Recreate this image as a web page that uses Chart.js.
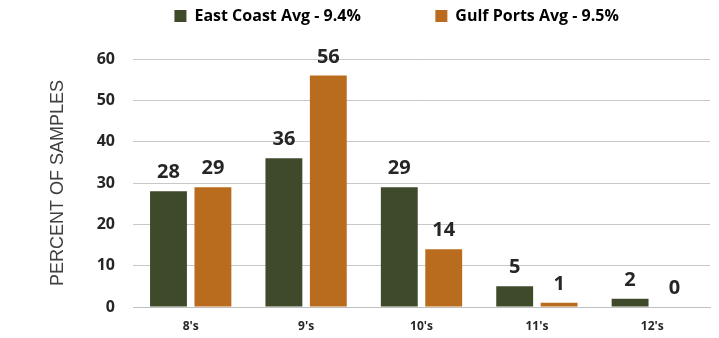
<!DOCTYPE html>
<html>
<head>
<meta charset="utf-8">
<script src="https://cdn.jsdelivr.net/npm/chart.js@4"></script>
<style>
  html, body { margin: 0; padding: 0; background: #fff; }
  #wrap { width: 719px; height: 338px; }
</style>
</head>
<body>
<div id="wrap"><canvas id="myChart" width="719" height="338"></canvas></div>
<script>
const categories = ["8's", "9's", "10's", "11's", "12's"];
const eastCoast = [28, 36, 29, 5, 2];
const gulfPorts = [29, 56, 14, 1, 0];
const seriesNames = ['East Coast Avg - 9.4%', 'Gulf Ports Avg - 9.5%'];
const yTicks = [0, 10, 20, 30, 40, 50, 60];

const green = '#3f4a2b';
const orange = '#b96c1d';

// draw value labels above each bar
const valueLabels = {
    id: 'valueLabels',
    afterDatasetsDraw(chart) {
        const ctx = chart.ctx;
        ctx.save();
        ctx.font = 'bold 20px "Open Sans", sans-serif';
        ctx.fillStyle = '#262626';
        ctx.textAlign = 'center';
        ctx.textBaseline = 'alphabetic';
        chart.data.datasets.forEach((ds, i) => {
            chart.getDatasetMeta(i).data.forEach((bar, j) => {
                ctx.fillText(ds.data[j], bar.x, bar.y - 13);
            });
        });
        ctx.restore();
    },
};

// spacing after legend entries, to spread them like the original
const legendGaps = [' '.repeat(16), ' '.repeat(20)];

let ctx = document.getElementById('myChart').getContext('2d');

new Chart(ctx, {
    type: 'bar',
    data: {
        labels: categories,
        datasets: [
            {
                label: seriesNames[0],
                data: eastCoast,
                backgroundColor: green,
                borderWidth: 0,
            },
            {
                label: seriesNames[1],
                data: gulfPorts,
                backgroundColor: orange,
                borderWidth: 0,
            },
        ],
    },
    options: {
        responsive: false,
        animation: false,
        datasets: {
            bar: {
                categoryPercentage: 0.77,
                barPercentage: 0.83,
            },
        },
        layout: {
            padding: { left: 0, right: 9, top: 0, bottom: 0 },
        },
        plugins: {
            legend: {
                position: 'top',
                align: 'end',
                labels: {
                    boxWidth: 12,
                    boxHeight: 12,
                    padding: 8,
                    color: '#262626',
                    font: { family: '"Open Sans", sans-serif', size: 16, weight: 'bold' },
                    generateLabels(chart) {
                        return chart.data.datasets.map((ds, i) => ({
                            text: ds.label + legendGaps[i],
                            fillStyle: ds.backgroundColor,
                            strokeStyle: ds.backgroundColor,
                            lineWidth: 0,
                            datasetIndex: i,
                        }));
                    },
                },
            },
            // empty title used as a spacer between legend and plot
            title: {
                display: true,
                text: '',
                weight: 500,
                font: { size: 10 },
                padding: { top: 0, bottom: 13 },
            },
            tooltip: { enabled: false },
        },
        scales: {
            x: {
                grid: { display: false, drawTicks: false },
                border: { color: '#bfbfbf' },
                ticks: {
                    padding: 12,
                    color: '#262626',
                    font: { family: '"Open Sans", sans-serif', size: 12, weight: 'bold' },
                },
                afterFit(scale) { scale.height = 31; },
            },
            y: {
                min: 0,
                max: 60,
                afterBuildTicks(scale) {
                    scale.ticks = yTicks.map(v => ({ value: v }));
                },
                grid: { color: '#c8c8c8', drawTicks: false },
                border: { display: false },
                ticks: {
                    padding: 18,
                    color: '#262626',
                    font: { family: '"Open Sans", sans-serif', size: 16, weight: 'bold' },
                },
                title: {
                    display: true,
                    text: 'PERCENT OF SAMPLES',
                    color: '#404040',
                    padding: { top: 47, bottom: 0 },
                    font: { family: 'Arial, "Liberation Sans", sans-serif', size: 18 },
                },
                afterFit(scale) { scale.width = 133; },
            },
        },
    },
    plugins: [valueLabels],
});
</script>
</body>
</html>
